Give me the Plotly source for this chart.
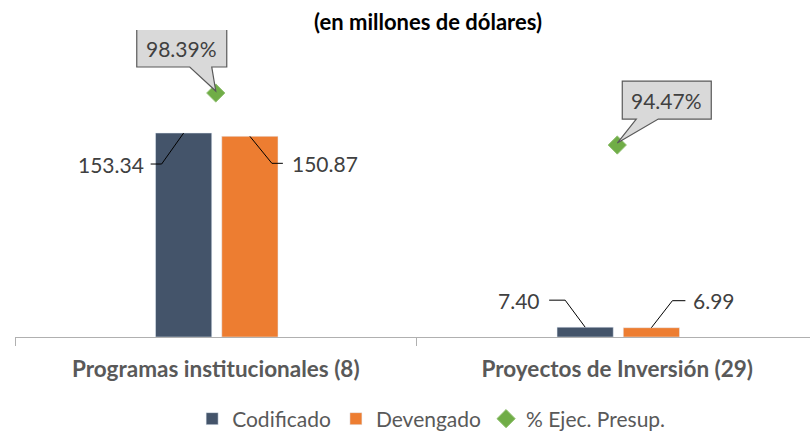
import plotly.graph_objects as go

categories = ["Programas institucionales (8)", "Proyectos de Inversión (29)"]
codificado = [153.34, 7.40]
devengado = [150.87, 6.99]
ejec_pct = [98.39, 94.47]
pct_labels = ["98.39%", "94.47%"]

C_COD = "#44546a"
C_DEV = "#ed7d31"
C_PCT = "#70ad47"
FONT = "Lato"

BAR_W = 0.14
OFF_COD = -0.15
OFF_DEV = 0.015

fig = go.Figure()
fig.add_trace(go.Bar(x=categories, y=codificado, name="Codificado", marker_color=C_COD,
                     width=BAR_W, offset=OFF_COD))
fig.add_trace(go.Bar(x=categories, y=devengado, name="Devengado", marker_color=C_DEV,
                     width=BAR_W, offset=OFF_DEV))
fig.add_trace(go.Scatter(x=categories, y=ejec_pct, name="% Ejec. Presup.", mode="markers",
                         marker=dict(symbol="diamond", size=14, color=C_PCT,
                                     line=dict(color="#8fbf6f", width=1)),
                         yaxis="y2"))

shapes = []
annotations = []

def leader(xc, yv, pts, yref="y"):
    path = "M 0,0 " + " ".join(f"L {px},{py}" for px, py in pts)
    shapes.append(dict(type="path", xref="x", yref=yref, xsizemode="pixel", ysizemode="pixel",
                       xanchor=xc, yanchor=yv, path=path,
                       line=dict(color="#000000", width=1)))

cod_geom = [((-22, -31), (-33, -31), (-73, -31)), ((-20, 27), (-36, 27), (-66, 27))]
dev_geom = [((22, -27), (33, -27), (75, -27)), ((21, 27), (34, 27), (63, 27))]

for i, cat in enumerate(categories):
    for vals, off, geom in ((codificado, OFF_COD, cod_geom[i]),
                            (devengado, OFF_DEV, dev_geom[i])):
        xc = i + off + BAR_W / 2
        elbow, end, lab = geom
        leader(xc, vals[i], [elbow, end])
        annotations.append(dict(x=xc, y=vals[i], xref="x", yref="y", text=f"{vals[i]:.2f}",
                                showarrow=False, xshift=lab[0], yshift=lab[1],
                                font=dict(family=FONT, size=21, color="#404040")))

callout_geom = [(-79, 11, -26, -4), (5, 94, 19, 41)]
for i, cat in enumerate(categories):
    left, right, t0, t1 = callout_geom[i]
    bot, top = 26, 64
    path = (f"M {left},{bot} L {t0},{bot} L 0,2 L {t1},{bot} L {right},{bot} "
            f"L {right},{top} L {left},{top} Z")
    shapes.append(dict(type="path", xref="x", yref="y2", xsizemode="pixel", ysizemode="pixel",
                       xanchor=i, yanchor=ejec_pct[i], path=path,
                       fillcolor="#d9d9d9", line=dict(color="#595959", width=1.2), layer="above"))
    annotations.append(dict(x=i, y=ejec_pct[i], xref="x", yref="y2", text=pct_labels[i],
                            showarrow=False, xshift=(left + right) / 2, yshift=(bot + top) / 2,
                            font=dict(family=FONT, size=21, color="#404040")))

fig.update_layout(
    width=810, height=432,
    margin=dict(l=15, r=0, t=30, b=95),
    paper_bgcolor="white", plot_bgcolor="white",
    title=dict(text="<b>(en millones de dólares)</b>", x=428 / 810, xanchor="center",
               y=1 - 22 / 432, yanchor="middle", font=dict(family=FONT, size=22, color="#000000")),
    xaxis=dict(type="category", range=[-0.5, 1.48], tickson="boundaries", ticks="outside",
               ticklen=8, tickcolor="#b0b0b0", showline=True, linecolor="#b0b0b0", linewidth=1,
               showgrid=False, ticklabelstandoff=12,
               tickfont=dict(family=FONT, size=22.5, color="#595959", weight="bold")),
    yaxis=dict(range=[0, 230.8], visible=False, showgrid=False, zeroline=False),
    yaxis2=dict(range=[80, 103.14], overlaying="y", side="right", visible=False,
                showgrid=False, zeroline=False),
    showlegend=True,
    legend=dict(orientation="h", x=424 / 810, xanchor="center", y=1 - 419 / 432, yanchor="middle",
                yref="container", font=dict(family=FONT, size=21, color="#595959"),
                itemwidth=30, traceorder="normal", tracegroupgap=0),
    shapes=shapes,
    annotations=annotations,
)

fig.write_html("out.html", config={"displayModeBar": False},
               post_script="document.body.style.margin='0';")
